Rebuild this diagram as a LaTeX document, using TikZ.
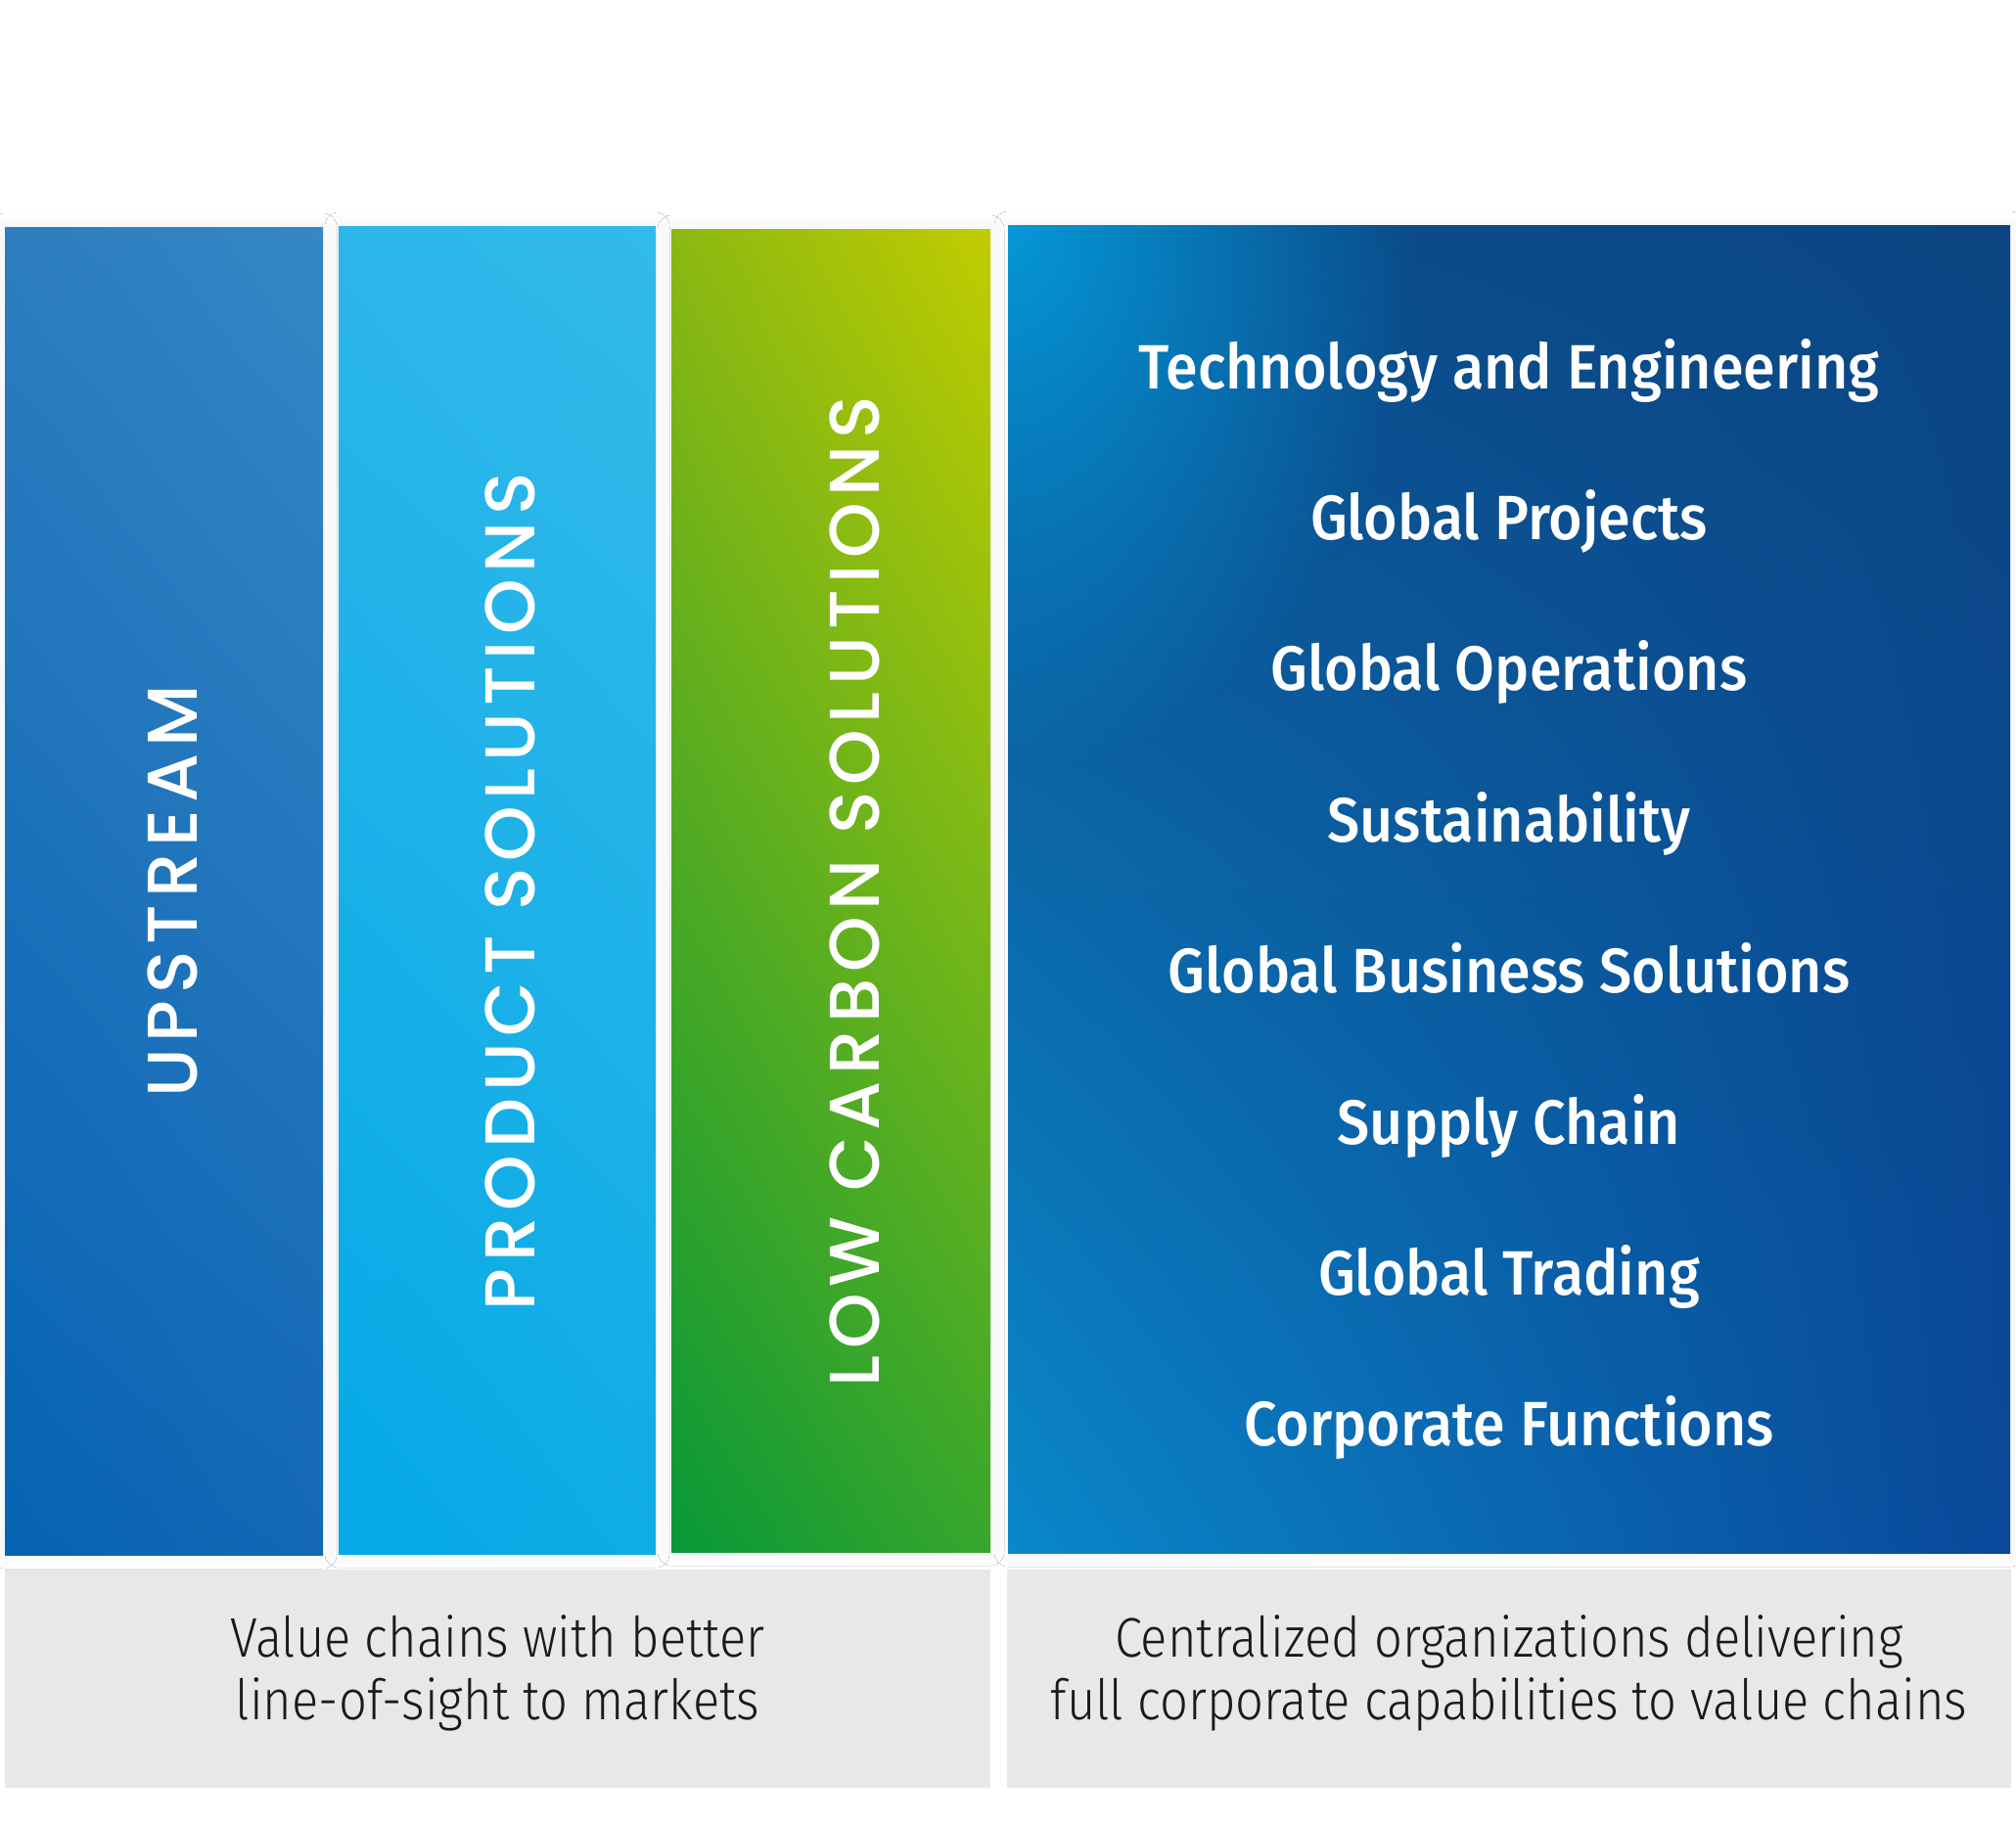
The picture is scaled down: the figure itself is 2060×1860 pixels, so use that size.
\documentclass[tikz,border=0pt]{standalone}
\usepackage{fontspec}
\usetikzlibrary{shadings,shadows.blur,fadings}
\newfontfamily\headfont{Fira Sans}[UprightFont=* Medium, FakeStretch=0.925]
\newfontfamily\lightfont{Fira Sans}[UprightFont=* Light, FakeStretch=0.89]
\newfontfamily\capsfont{Poppins}[UprightFont=* Medium, LetterSpace=9.5]
\definecolor{greybox}{HTML}{E8E8E8}
\definecolor{bottomtext}{HTML}{1A1A1A}
\definecolor{glowcol}{HTML}{0598D8}
\definecolor{upUL}{HTML}{2D7DC0}\definecolor{upUR}{HTML}{3587C5}
\definecolor{upLL}{HTML}{0563B3}\definecolor{upLR}{HTML}{1468B5}
\definecolor{psUL}{HTML}{2CB6EA}\definecolor{psUR}{HTML}{33BAEA}
\definecolor{psLL}{HTML}{04A9E7}\definecolor{psLR}{HTML}{10ACE6}
\definecolor{lcUL}{HTML}{8BB812}\definecolor{lcUR}{HTML}{C2CC00}
\definecolor{lcLL}{HTML}{079838}\definecolor{lcLR}{HTML}{38A62C}
\definecolor{rbUL}{HTML}{0B4C8C}\definecolor{rbUR}{HTML}{0B4682}
\definecolor{rbLL}{HTML}{0A88CA}\definecolor{rbLR}{HTML}{0A489A}
\tikzfading[name=glowfade, inner color=transparent!0, outer color=transparent!100]
\tikzset{
  colbox/.style={shade, inner sep=0pt, outer sep=0pt,
    blur shadow={shadow xshift=0pt, shadow yshift=0pt, shadow blur radius=14pt, shadow opacity=6, shadow blur steps=12}},
  greyboxstyle/.style={fill=greybox, inner sep=0pt, outer sep=0pt},
  vlabel/.style={rotate=90, anchor=base, text=white, inner sep=0pt, font=\capsfont\fontsize{72}{80}\selectfont},
  hlabel/.style={anchor=base, text=white, inner sep=0pt, font=\headfont\fontsize{64}{72}\selectfont},
  blabel/.style={anchor=base, text=bottomtext, inner sep=0pt, font=\lightfont\fontsize{57}{64}\selectfont},
}
\begin{document}
\begin{tikzpicture}[x=1pt,y=-1pt]
\useasboundingbox[fill=white] (0,0) rectangle (2060,1860);
% columns
\node[colbox, minimum width=325pt, minimum height=1357pt,
  upper left=upUL, upper right=upUR, lower left=upLL, lower right=upLR]
  (up) at (167.5,910.5) {};
\node[colbox, minimum width=324pt, minimum height=1357pt,
  upper left=psUL, upper right=psUR, lower left=psLL, lower right=psLR]
  (ps) at (508,909.5) {};
\node[colbox, minimum width=326pt, minimum height=1352pt,
  upper left=lcUL, upper right=lcUR, lower left=lcLL, lower right=lcLR]
  (lc) at (849,910) {};
\node[colbox, minimum width=1024pt, minimum height=1357pt,
  upper left=rbUL, upper right=rbUR, lower left=rbLL, lower right=rbLR]
  (rb) at (1542,908.5) {};
\begin{scope}
  \clip (rb.north west) rectangle (rb.south east);
  \fill[glowcol, path fading=glowfade] (rb.north west) ellipse [x radius=420, y radius=560];
\end{scope}
% grey boxes
\node[greyboxstyle, minimum width=1007pt, minimum height=223pt] (gl) at (508.5,1715.5) {};
\node[greyboxstyle, minimum width=1026pt, minimum height=223pt] (gr) at (1542,1715.5) {};
% vertical labels
\node[vlabel] (tup) at (201,911) {UPSTREAM};
\node[vlabel] (tps) at (546.5,911) {PRODUCT SOLUTIONS};
\node[vlabel] (tlc) at (898,911) {LOW CARBON SOLUTIONS};
% right block labels
\node[hlabel] (h1) at (1542,397) {Technology and Engineering};
\node[hlabel] (h2) at (1542,551.4) {Global Projects};
\node[hlabel] (h3) at (1542,705.8) {Global Operations};
\node[hlabel] (h4) at (1542,860.2) {Sustainability};
\node[hlabel] (h5) at (1542,1014.6) {Global Business Solutions};
\node[hlabel] (h6) at (1542,1169) {Supply Chain};
\node[hlabel] (h7) at (1542,1323.4) {Global Trading};
\node[hlabel] (h8) at (1542,1477.8) {Corporate Functions};
% bottom labels
\node[blabel] (b1) at (508.5,1693) {Value chains with better};
\node[blabel] (b2) at (508.5,1757) {line-of-sight to markets};
\node[blabel] (b3) at (1542,1693) {Centralized organizations delivering};
\node[blabel] (b4) at (1542,1757) {full corporate capabilities to value chains};
\end{tikzpicture}
\end{document}
